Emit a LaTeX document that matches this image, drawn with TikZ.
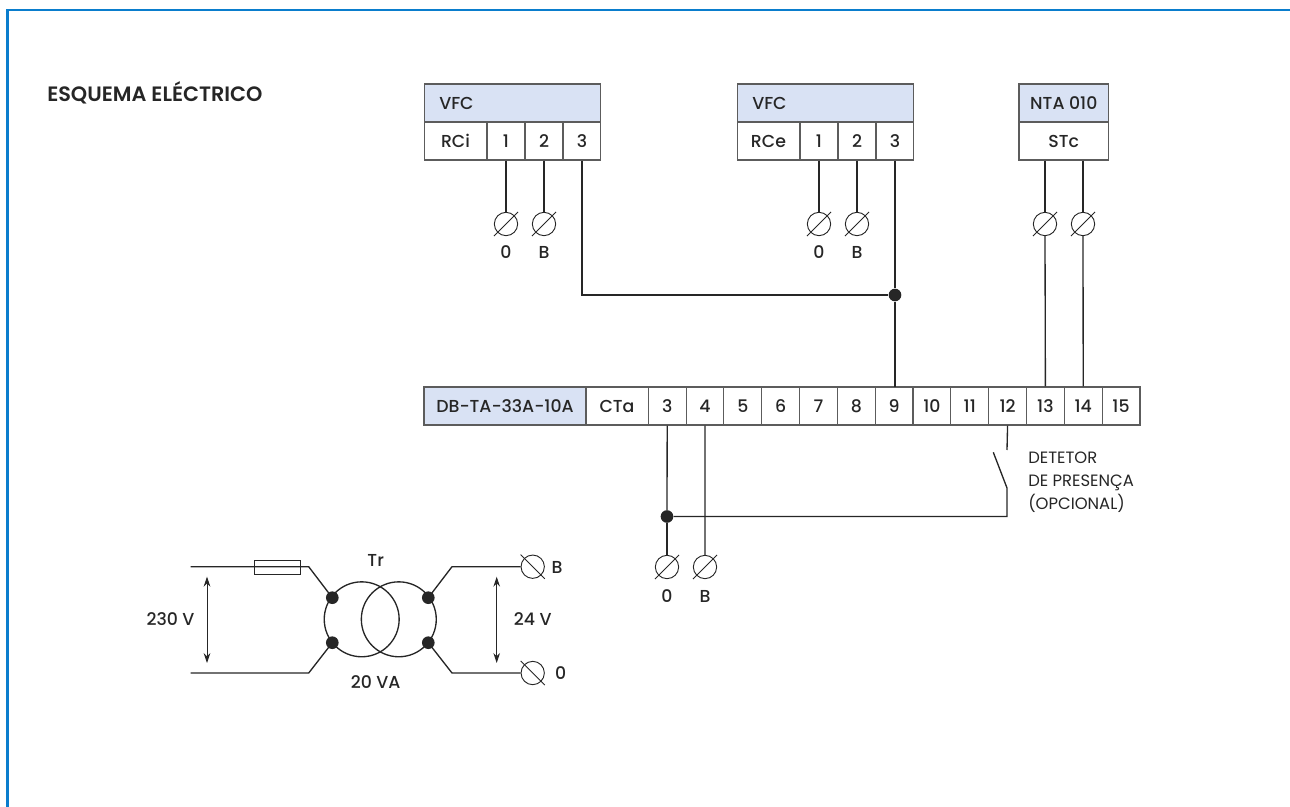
\documentclass[tikz,border=0pt]{standalone}
\usepackage{fontspec}
\setmainfont{Poppins}
\newfontfamily\medfont{Poppins Medium}
\newfontfamily\semifont{Poppins SemiBold}
\usetikzlibrary{calc,arrows.meta}
\definecolor{framecol}{RGB}{10,125,205}
\definecolor{headcol}{RGB}{217,226,244}
\definecolor{inkcol}{RGB}{38,38,38}
\tikzset{
  wire/.style={draw=inkcol,line width=1pt},
  cell/.style={draw=inkcol!75,line width=0.8pt,inner sep=0pt,text=inkcol,font=\medfont\fontsize{13pt}{15pt}\selectfont,minimum height=28.5pt,minimum width=28.4pt,anchor=center},
  head/.style={cell,fill=headcol},
  term/.style={circle,draw=inkcol,line width=0.7pt,inner sep=0pt,minimum size=17.5pt},
  junct/.style={circle,fill=inkcol,inner sep=0pt,minimum size=9.5pt},
  lbl/.style={inner sep=0pt,text=inkcol,font=\medfont\fontsize{13pt}{15pt}\selectfont},
  volt/.style={draw=inkcol,line width=0.7pt,{Stealth[length=7.5pt,width=5pt]}-{Stealth[length=7.5pt,width=5pt]}},
}
\begin{document}
\begin{tikzpicture}[x=0.75pt,y=0.75pt,yscale=-1]
\useasboundingbox (0,0) rectangle (1290,807);

%Frame
\draw [framecol,line width=2pt] (7.5,807) -- (7.5,10) -- (1290,10);

% Text Node
\node [lbl,font=\semifont\fontsize{15.6pt}{18pt}\selectfont,anchor=west] (title) at (47,93) {ESQUEMA ELÉCTRICO};

%VFC RCi
\node [head,minimum width=132.5pt] (vfca) at (512.5,103) {};
\node [lbl,anchor=west] (vfcatxt) at (439,103) {VFC};
\node [cell,minimum width=47.2pt] (rci) at (455.5,141) {RCi};
\node [cell] (rci1) at (506,141) {1};
\node [cell] (rci2) at (544,141) {2};
\node [cell] (rci3) at (582,141) {3};

%VFC RCe
\node [head,minimum width=132.5pt] (vfcb) at (825.5,103) {};
\node [lbl,anchor=west] (vfcbtxt) at (752,103) {VFC};
\node [cell,minimum width=47.2pt] (rce) at (768.5,141) {RCe};
\node [cell] (rce1) at (819,141) {1};
\node [cell] (rce2) at (857,141) {2};
\node [cell] (rce3) at (895,141) {3};

%NTA
\node [head,minimum width=67.2pt] (nta) at (1063.8,103) {NTA 010};
\node [cell,minimum width=67.2pt] (stc) at (1063.8,141) {STc};

%Strip
\node [head,minimum width=121.5pt] (dbta) at (505,406) {DB-TA-33A-10A};
\node [cell,minimum width=47.2pt] (cta) at (617,406) {CTa};
\foreach \n in {3,...,15}
  \node [cell] (s\n) at ({667.2+(\n-3)*37.82},406) {\n};

%Terminals
\node [term] (ta0) at (506,224) {};
\node [term] (tab) at (544,224) {};
\node [term] (tb0) at (819,224) {};
\node [term] (tbb) at (857,224) {};
\node [term] (tc1) at (1045,224) {};
\node [term] (tc2) at (1083,224) {};
\node [term] (td0) at (667,567) {};
\node [term] (tdb) at (705,567) {};
\node [term] (tro) at (532.7,566.7) {};
\node [term] (trz) at (532.7,673) {};
\foreach \t in {ta0,tab,tb0,tbb,tc1,tc2,td0,tdb}
  \draw [draw=inkcol,line width=0.6pt] ($(\t.south west)!-0.205!(\t.north east)$) -- ($(\t.north east)!-0.205!(\t.south west)$);
\foreach \t in {tro,trz}
  \draw [draw=inkcol,line width=0.6pt] ($(\t.north west)!-0.205!(\t.south east)$) -- ($(\t.south east)!-0.205!(\t.north west)$);

% Text Node
\node [lbl] (la0) at (506,252) {0};
\node [lbl] (lab) at (544,252) {B};
\node [lbl] (lb0) at (819,252) {0};
\node [lbl] (lbb) at (857,252) {B};
\node [lbl] (ld0) at (667,596) {0};
\node [lbl] (ldb) at (705,596) {B};

%Upper wires
\draw [wire] (rci1.south) -- (ta0.north);
\draw [wire] (rci2.south) -- (tab.north);
\draw [wire] (rce1.south) -- (tb0.north);
\draw [wire] (rce2.south) -- (tbb.north);
\node [junct] (ja) at (895,295) {};
\draw [wire] (rci3.south) |- (ja.west);
\draw [wire] (rce3.south) -- (ja.north);
\draw [wire] (ja.south) -- (895,387);
\draw [wire] (tc1.north |- stc.south) -- (tc1.north);
\draw [wire] (tc1.south) -- (s13.north);
\draw [wire] (tc2.north |- stc.south) -- (tc2.north);
\draw [wire] (tc2.south) -- (s14.north);

%Lower wires
\node [junct] (jb) at (667,516.5) {};
\draw [wire] (s3.south) -- (jb.north);
\draw [wire] (jb.south) -- (td0.north);
\draw [wire] (s4.south) -- (tdb.north);

%Switch
\coordinate (swa) at (1007,450);
\coordinate (swb) at (993.3,452.3);
\coordinate (swc) at (1007,488);
\coordinate (swd) at (1007,516.5);
\draw [wire] (s12.south) -- (swa);
\draw [wire] (swb) -- (swc) -- (swd) -- (jb.east);

% Text Node
\node [lbl,font=\fontsize{12.3pt}{17pt}\selectfont,align=left,anchor=north west] (det) at (1028,452) {DETETOR\\DE PRESENÇA\\(OPCIONAL)};

%Transformer
\node [circle,draw=inkcol,line width=1pt,inner sep=0pt,minimum size=56.2pt] (wa) at (361.7,619.3) {};
\node [circle,draw=inkcol,line width=1pt,inner sep=0pt,minimum size=56.2pt] (wb) at (398.8,619.3) {};
\node [junct] (pa) at (332.3,597.7) {};
\node [junct] (pb) at (332.3,642.7) {};
\node [junct] (pc) at (428.3,597.7) {};
\node [junct] (pd) at (428.3,642.7) {};
\node [draw=inkcol,line width=0.6pt,inner sep=0pt,minimum width=34.5pt,minimum height=10.7pt] (fuse) at (277.3,567.2) {};
\coordinate (ina) at (190.7,566.7);
\coordinate (inb) at (190.7,673);
\coordinate (bda) at (308.7,566.7);
\coordinate (bdb) at (308.7,673);
\coordinate (bdc) at (452,566.7);
\coordinate (bdd) at (452,673);
\draw [wire] (ina) -- (bda) -- (pa.center);
\draw [wire] (inb) -- (bdb) -- (pb.center);
\draw [wire] (pc.center) -- (bdc) -- (tro.west);
\draw [wire] (pd.center) -- (bdd) -- (trz.west);
\coordinate (ara) at (207,576.7);
\coordinate (arb) at (207,663);
\coordinate (arc) at (496.7,576.7);
\coordinate (ard) at (496.7,663);
\draw [volt] (ara) -- (arb);
\draw [volt] (arc) -- (ard);

% Text Node
\node [lbl] (vin) at (170.5,618.7) {230 V};
\node [lbl] (vout) at (532.7,618.7) {24 V};
\node [lbl] (tr) at (375.7,560.7) {Tr};
\node [lbl] (va) at (375.7,681.7) {20 VA};
\node [lbl] (ltb) at (557,567) {B};
\node [lbl] (lt0) at (560.7,673) {0};

\end{tikzpicture}
\end{document}
